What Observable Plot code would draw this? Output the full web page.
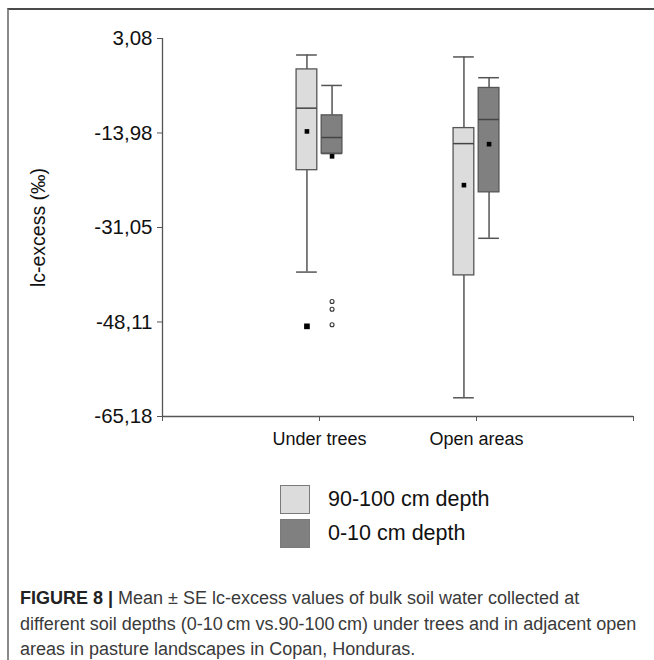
<!DOCTYPE html>
<html>
<head>
<meta charset="utf-8">
<script src="https://cdn.jsdelivr.net/npm/d3@7"></script>
<script src="https://cdn.jsdelivr.net/npm/@observablehq/plot@0.6"></script>
<style>
  html, body { margin: 0; padding: 0; background: #fff; }
  body { width: 654px; height: 660px; position: relative; overflow: hidden; font-family: "Liberation Sans", Arial, sans-serif; }
  #frame { position: absolute; left: 7px; top: 8px; width: 660px; height: 660px; border-top: 2px solid #4a4a4a; border-left: 2px solid #8a8a8a; }
  #chart { position: absolute; left: 0; top: 0; }
  .legend { position: absolute; left: 280px; font-size: 21.5px; color: #111; }
  .legend .row { display: flex; align-items: center; height: 34px; }
  .legend .sw { width: 30px; height: 29px; border: 1px solid #7a7a7a; margin-right: 18px; box-sizing: border-box; }
  #caption { position: absolute; left: 20px; top: 586px; font-size: 18px; line-height: 25.5px; color: #3a3a3a; white-space: nowrap; }
  #caption b { color: #222; }
</style>
</head>
<body>
<div id="frame"></div>
<div id="chart"></div>
<div class="legend" style="top:482px">
  <div class="row"><div class="sw" style="background:#dcdcdc"></div><span>90-100 cm depth</span></div>
  <div class="row"><div class="sw" style="background:#808080"></div><span>0-10 cm depth</span></div>
</div>
<div id="caption"><b>FIGURE 8 |</b> Mean ± SE lc-excess values of bulk soil water collected at<br>different soil depths (0-10&#8201;cm vs.90-100&#8201;cm) under trees and in adjacent open<br>areas in pasture landscapes in Copan, Honduras.</div>
<script>
// Sites along the x axis and the two sampling depths
const sites = ["Under trees", "Open areas"];
const depths = ["90-100 cm depth", "0-10 cm depth"];
const depthFill = ["#dcdcdc", "#808080"];

// Box summaries per site, one array per depth (lc-excess, ‰)
const whiskerHigh = { "90-100 cm depth": [0.1, -0.25],  "0-10 cm depth": [-5.4, -4.0] };
const q3          = { "90-100 cm depth": [-2.5, -13.1], "0-10 cm depth": [-10.8, -5.85] };
const median      = { "90-100 cm depth": [-9.5, -15.9], "0-10 cm depth": [-14.8, -11.55] };
const q1          = { "90-100 cm depth": [-20.7, -39.7], "0-10 cm depth": [-17.7, -24.7] };
const whiskerLow  = { "90-100 cm depth": [-39.1, -61.8], "0-10 cm depth": [-17.7, -33.0] };
const mean        = { "90-100 cm depth": [-13.7, -23.4], "0-10 cm depth": [-18.2, -16.0] };

// Points beyond the whiskers
const extremes = [{ site: "Under trees", depth: "90-100 cm depth", value: -48.9 }];
const outliers = [
  { site: "Under trees", depth: "0-10 cm depth", value: -44.4 },
  { site: "Under trees", depth: "0-10 cm depth", value: -45.8 },
  { site: "Under trees", depth: "0-10 cm depth", value: -48.6 }
];

// Axis ticks
const yTicks = [3.08, -13.98, -31.05, -48.11, -65.18];
const yTickLabels = ["3,08", "-13,98", "-31,05", "-48,11", "-65,18"];

// Layout helpers: site index → x position, depth → side-by-side offset
const sitePos = (s) => sites.indexOf(s) + 1;
const offset = 0.08, half = 0.066;
const center = (s, d) => sitePos(s) + (d === depths[0] ? -offset : offset);

const boxes = [];
for (const d of depths) sites.forEach((s, i) => boxes.push({
  site: s, depth: d, cx: center(s, d),
  hi: whiskerHigh[d][i], q3: q3[d][i], med: median[d][i],
  q1: q1[d][i], lo: whiskerLow[d][i], mean: mean[d][i]
}));
const pts = (arr) => arr.map(p => ({ ...p, cx: center(p.site, p.depth) }));

const chart = Plot.plot({
  width: 654,
  height: 460,
  marginLeft: 162,
  marginRight: 21,
  marginTop: 38,
  marginBottom: 44,
  style: { fontFamily: "Liberation Sans, Arial, sans-serif", color: "#111", background: "transparent" },
  x: { type: "linear", domain: [0, 3] },
  y: { domain: [-65.18, 3.08] },
  color: { domain: depths, range: depthFill },
  marks: [
    Plot.axisY({ ticks: yTicks, tickFormat: (d) => yTickLabels[yTicks.indexOf(d)], tickSize: 5, tickPadding: 5, fontSize: 20.5, stroke: "#555", label: null }),
    Plot.axisX({ ticks: [0, 1, 2, 3], tickFormat: (d) => sites[d - 1] ?? "", tickSize: 5, tickPadding: 11, fontSize: 18, stroke: "#555", label: null }),
    Plot.ruleX([0], { y1: -65.18, y2: 3.08, stroke: "#555", strokeWidth: 1.3 }),
    Plot.ruleY([-65.18], { x1: 0, x2: 3, stroke: "#555", strokeWidth: 1.3 }),
    Plot.text(["lc-excess (‰)"], { frameAnchor: "left", textAnchor: "middle", dx: -124, rotate: -90, fontSize: 19.5, fill: "#111" }),
    // whiskers and caps
    Plot.ruleX(boxes, { x: "cx", y1: "q3", y2: "hi", stroke: "#555", strokeWidth: 1.5 }),
    Plot.ruleX(boxes, { x: "cx", y1: "q1", y2: "lo", stroke: "#555", strokeWidth: 1.5 }),
    Plot.ruleY(boxes, { y: "hi", x1: (d) => d.cx - half, x2: (d) => d.cx + half, stroke: "#555", strokeWidth: 1.5 }),
    Plot.ruleY(boxes, { y: "lo", x1: (d) => d.cx - half, x2: (d) => d.cx + half, stroke: "#555", strokeWidth: 1.5 }),
    // boxes
    Plot.rect(boxes, { x1: (d) => d.cx - half, x2: (d) => d.cx + half, y1: "q1", y2: "q3", fill: "depth", stroke: "#555", strokeWidth: 1.3 }),
    Plot.ruleY(boxes, { y: "med", x1: (d) => d.cx - half, x2: (d) => d.cx + half, stroke: "#444", strokeWidth: 1.5 }),
    // means
    Plot.dot(boxes, { x: "cx", y: "mean", symbol: "square", r: 2.6, fill: "#000", stroke: null }),
    Plot.dot(pts(extremes), { x: "cx", y: "value", symbol: "square", r: 3.2, fill: "#000", stroke: null }),
    Plot.dot(pts(outliers), { x: "cx", y: "value", r: 2, fill: "#fff", stroke: "#333", strokeWidth: 1.1 })
  ]
});
document.getElementById("chart").appendChild(chart);
</script>
</body>
</html>
